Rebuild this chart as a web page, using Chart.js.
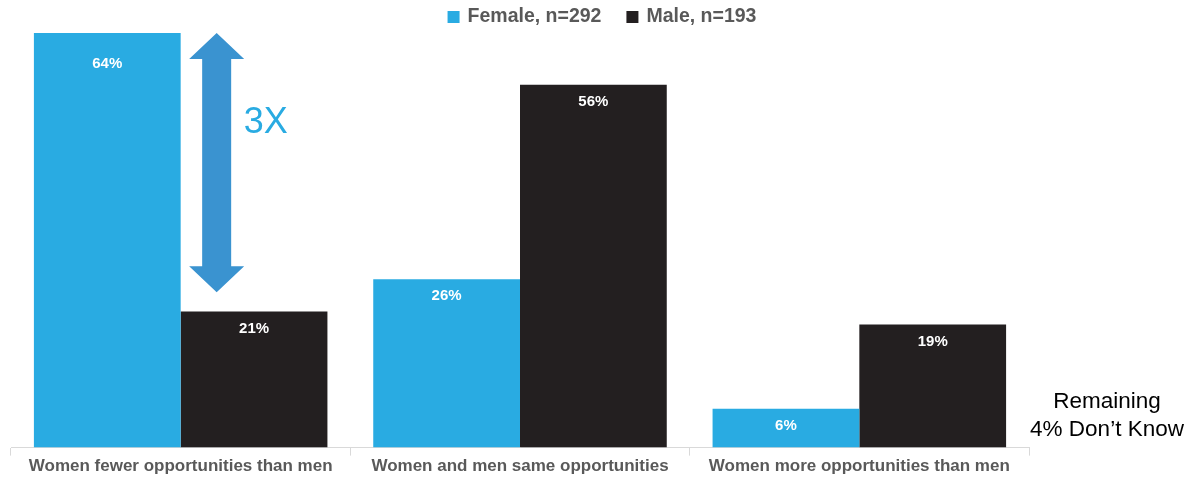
<!DOCTYPE html>
<html>
<head>
<meta charset="utf-8">
<script src="https://cdn.jsdelivr.net/npm/chart.js@4/dist/chart.umd.min.js"></script>
<style>
  html, body { margin: 0; padding: 0; background: #fff; }
  #wrap { width: 1199px; height: 478px; position: relative; }
</style>
</head>
<body>
<div id="wrap"><canvas id="oppChart"></canvas></div>
<script>
// Daten
const categories = [
  "Women fewer opportunities than men",
  "Women and men same opportunities",
  "Women more opportunities than men"
];
const femaleValues = [64, 26, 6];
const maleValues = [21, 56, 19];
const seriesNames = ["Female, n=292", "Male, n=193"];
const noteLines = ["Remaining", "4% Don\u2019t Know"];
const ratioText = "3X";
// Doppelpfeil von der Spitze des ersten Balkens bis knapp über den Männer-Balken
const arrowRange = [64, 24];

const FEMALE = "#29abe2";
const MALE = "#231f20";
const GREY = "#595959";
const FONT = "'Liberation Sans', Arial, sans-serif";

/* --------- Legende oben (eigene Zeichnung, enger Abstand) --------- */
const topLegend = {
  id: "topLegend",
  afterDraw(chart) {
    const c = chart.ctx;
    c.save();
    c.font = "bold 19.5px " + FONT;
    c.textBaseline = "middle";
    const box = 12, gapText = 8, gapItem = 25;
    const widths = seriesNames.map(n => box + gapText + c.measureText(n).width);
    const total = widths.reduce((a, b) => a + b, 0) + gapItem * (widths.length - 1);
    let x = 602 - total / 2;
    const cy = 17;
    chart.data.datasets.forEach((ds, i) => {
      c.fillStyle = ds.backgroundColor;
      c.fillRect(x, cy - box / 2, box, box);
      c.fillStyle = GREY;
      c.fillText(seriesNames[i], x + box + gapText, cy);
      x += widths[i] + gapItem;
    });
    c.restore();
  }
};

/* --------- Werte in die Balken schreiben --------- */
const valueLabels = {
  id: "valueLabels",
  afterDatasetsDraw(chart) {
    const c = chart.ctx;
    c.save();
    c.fillStyle = "#fff";
    c.font = "bold 15px " + FONT;
    c.textAlign = "center";
    c.textBaseline = "middle";
    chart.data.datasets.forEach((ds, i) => {
      chart.getDatasetMeta(i).data.forEach((bar, j) => {
        const off = (ds.data[j] === Math.max(...femaleValues)) ? 31 : 17;
        c.fillText(ds.data[j] + "%", bar.x, bar.y + off);
      });
    });
    c.restore();
  }
};

/* --------- Pfeil, "3X" und Hinweis rechts --------- */
const annotations = {
  id: "annotations",
  afterDraw(chart) {
    const c = chart.ctx;
    const y = chart.scales.y;
    const maleBar = chart.getDatasetMeta(1).data[0];
    const cx = maleBar.x - maleBar.width / 2 + 36;
    const top = y.getPixelForValue(arrowRange[0]);
    const bot = y.getPixelForValue(arrowRange[1]);
    const headW = 27.5, headH = 26, shaft = 14.5;

    c.save();
    c.fillStyle = "#3a93d0";
    c.beginPath();
    c.moveTo(cx, top);
    c.lineTo(cx + headW, top + headH);
    c.lineTo(cx + shaft, top + headH);
    c.lineTo(cx + shaft, bot - headH);
    c.lineTo(cx + headW, bot - headH);
    c.lineTo(cx, bot);
    c.lineTo(cx - headW, bot - headH);
    c.lineTo(cx - shaft, bot - headH);
    c.lineTo(cx - shaft, top + headH);
    c.lineTo(cx - headW, top + headH);
    c.closePath();
    c.fill();

    c.fillStyle = FEMALE;
    c.font = "36px " + FONT;
    c.textAlign = "left";
    c.textBaseline = "middle";
    c.fillText(ratioText, cx + 27, 123);

    c.fillStyle = "#000";
    c.font = "22.5px " + FONT;
    c.textAlign = "center";
    const nx = chart.chartArea.right + 78;
    c.fillText(noteLines[0], nx, 402);
    c.fillText(noteLines[1], nx, 430);
    c.restore();
  }
};

const ctx = document.getElementById("oppChart");

new Chart(ctx, {
  type: "bar",
  data: {
    labels: categories,
    datasets: [
      { label: seriesNames[0], data: femaleValues, backgroundColor: FEMALE },
      { label: seriesNames[1], data: maleValues, backgroundColor: MALE }
    ]
  },
  options: {
    responsive: true,
    maintainAspectRatio: false,
    animation: false,
    layout: { padding: { left: 11, right: 170, top: 33, bottom: 0 } },
    datasets: { bar: { categoryPercentage: 0.865, barPercentage: 1 } },
    plugins: {
      legend: { display: false },
      tooltip: { enabled: false }
    },
    scales: {
      x: {
        grid: {
          display: true,
          drawOnChartArea: false,
          color: "#d9d9d9",
          tickLength: 8
        },
        border: { color: "#d9d9d9" },
        ticks: {
          color: GREY,
          padding: 1,
          font: { family: FONT, size: 17, weight: "bold" }
        }
      },
      y: {
        display: false,
        min: 0,
        max: 64
      }
    }
  },
  plugins: [valueLabels, annotations, topLegend]
});
</script>
</body>
</html>
